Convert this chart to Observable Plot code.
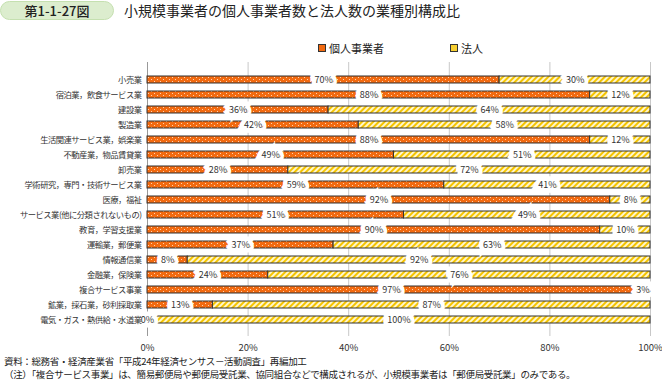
<!DOCTYPE html>
<html><head><meta charset="utf-8">
<script src="https://cdn.jsdelivr.net/npm/d3@7"></script>
<script src="https://cdn.jsdelivr.net/npm/@observablehq/plot@0.6"></script>
<style>
body{margin:0;background:#fff;font-family:"Noto Sans CJK JP","Noto Sans",sans-serif;color:#222;}
#wrap{position:relative;width:662px;height:380px;overflow:hidden;}
#badge{position:absolute;left:0;top:1px;width:114px;height:19px;border-radius:10px;background:#dcedce;border:1px solid #c5e0b0;box-sizing:border-box;font-size:13px;line-height:17px;text-align:center;font-weight:500;}
#title{position:absolute;left:124px;top:1px;font-size:14px;line-height:18px;}
#legend{position:absolute;top:40px;left:0;font-size:11px;}
.lg{position:absolute;white-space:nowrap;display:flex;align-items:center;}
.sw{width:6px;height:6px;border:1px solid #333;margin-right:3px;}
#chart{position:absolute;left:0;top:58px;}
.cap{position:absolute;left:4px;font-size:9.5px;line-height:12px;letter-spacing:-0.35px;white-space:nowrap;}
#chart svg g[aria-label="y-axis tick label"] text{letter-spacing:-0.5px;}
</style></head><body>
<div id="wrap">
<div id="badge">第1-1-27図</div>
<div id="title">小規模事業者の個人事業者数と法人数の業種別構成比</div>
<div id="legend">
<div class="lg" style="left:318px;"><span class="sw" style="background:#f26a10"></span>個人事業者</div>
<div class="lg" style="left:450px;"><span class="sw" style="background:#f7cf30"></span>法人</div>
</div>
<div id="chart"></div>
<div class="cap" style="top:355px;">資料：総務省・経済産業省「平成24年経済センサス－活動調査」再編加工</div>
<div class="cap" style="top:368px;">（注）「複合サービス事業」は、簡易郵便局や郵便局受託業、協同組合などで構成されるが、小規模事業者は「郵便局受託業」のみである。</div>
</div>
<script>
const categories = ["小売業","宿泊業，飲食サービス業","建設業","製造業","生活関連サービス業，娯楽業","不動産業，物品賃貸業","卸売業","学術研究，専門・技術サービス業","医療，福祉","サービス業(他に分類されないもの)","教育，学習支援業","運輸業，郵便業","情報通信業","金融業，保険業","複合サービス事業","鉱業，採石業，砂利採取業","電気・ガス・熱供給・水道業"];
const individual = [70,88,36,42,88,49,28,59,92,51,90,37,8,24,97,13,0];
const corporate  = [30,12,64,58,12,51,72,41,8,49,10,63,92,76,3,87,100];
const seriesNames = ["個人事業者","法人"];
const xTicks = [0,20,40,60,80,100];

const rows = [];
categories.forEach((c,i)=>{
  rows.push({category:c, series:seriesNames[0], value:individual[i]});
  rows.push({category:c, series:seriesNames[1], value:corporate[i]});
});
const fillOf = d => d.series===seriesNames[0] ? "url(#dots)" : "url(#stripes)";

const chart = Plot.plot({
  width:662, height:300,
  marginLeft:147, marginRight:12, marginTop:4, marginBottom:22,
  style:{fontFamily:"'Noto Sans CJK JP','Noto Sans',sans-serif", color:"#333", background:"#fff"},
  x:{domain:[0,100], ticks:xTicks, tickFormat:d=>d+"%", tickSize:0, tickPadding:8, label:null},
  y:{domain:categories, padding:0.56, tickSize:0, tickPadding:6, label:null},
  color:{type:"identity"},
  marks:[
    Plot.gridX(xTicks,{stroke:"#c8c8c8", strokeOpacity:1}),
    Plot.ruleX([0],{stroke:"#999"}),
    Plot.barX(rows, Plot.stackX({x:"value", y:"category", fill:fillOf, stroke:"#333", strokeWidth:1})),
    Plot.text(rows, Plot.stackX({x:"value", y:"category", text:d=>d.value+"%", fontSize:9, fill:"#333", stroke:"white", strokeWidth:9, strokeLinejoin:"miter"})),
    Plot.axisX({ticks:xTicks, tickFormat:d=>d+"%", tickSize:0, tickPadding:8, fontSize:9.5, label:null}),
    Plot.axisY({tickSize:0, tickPadding:6, fontSize:8.3, label:null})
  ]
});
const ns="http://www.w3.org/2000/svg";
const defs=document.createElementNS(ns,"defs");
defs.innerHTML = `
<pattern id="dots" width="6" height="4" patternUnits="userSpaceOnUse">
  <rect width="6" height="4" fill="#f26a10"/>
  <rect x="1" y="1" width="1" height="1" fill="#ffd2b0"/>
  <rect x="4" y="3" width="1" height="1" fill="#ffd2b0"/>
</pattern>
<pattern id="stripes" width="4" height="4" patternUnits="userSpaceOnUse" patternTransform="rotate(45)">
  <rect width="4" height="4" fill="#fff6cc"/>
  <rect width="2" height="4" fill="#f5c400"/>
</pattern>`;
chart.insertBefore(defs, chart.firstChild);
document.getElementById("chart").appendChild(chart);
</script>
</body></html>
